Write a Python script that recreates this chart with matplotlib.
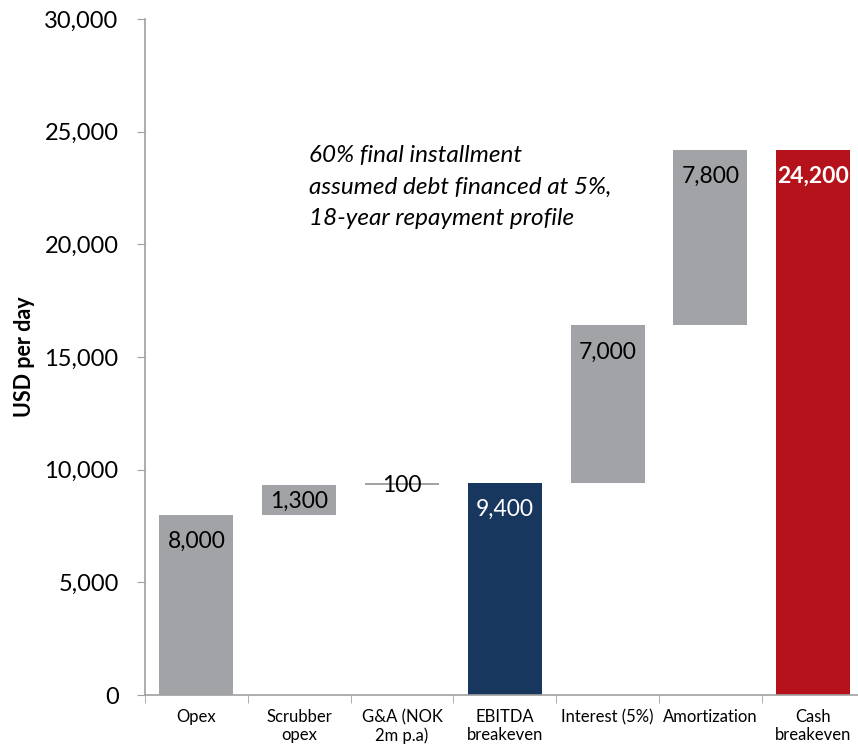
import matplotlib.pyplot as plt
from matplotlib.ticker import FuncFormatter

plt.rcParams['font.family'] = ['Lato', 'DejaVu Sans']

categories = ["Opex", "Scrubber\nopex", "G&A (NOK\n2m p.a)", "EBITDA\nbreakeven",
              "Interest (5%)", "Amortization", "Cash\nbreakeven"]
values = [8000, 1300, 100, 9400, 7000, 7800, 24200]
is_total = [False, False, False, True, False, False, True]
bar_colors = ["#A2A3A7", "#A2A3A7", "#A2A3A7", "#17375E", "#A2A3A7", "#A2A3A7", "#B5121B"]
label_colors = ["black", "black", "black", "white", "black", "black", "white"]
note = "60% final installment\nassumed debt financed at 5%,\n18-year repayment profile"

# waterfall bases
bottoms = []
running = 0
for v, tot in zip(values, is_total):
    if tot:
        bottoms.append(0)
        running = v
    else:
        bottoms.append(running)
        running += v

fig = plt.figure(figsize=(8.58, 7.52), dpi=100)
ax = fig.add_axes([145 / 858, 57 / 752, 7 * 102.8 / 858, 676 / 752])

x = list(range(len(categories)))
ax.bar(x, values, bottom=bottoms, width=0.72, color=bar_colors)

for i, (v, b) in enumerate(zip(values, bottoms)):
    top = b + v
    weight = "bold" if i == len(values) - 1 else "normal"
    txt = f"{v:,}"
    if v >= 3000:
        ax.annotate(txt, (i, top), xytext=(0, -16), textcoords="offset pixels",
                    ha="center", va="top", fontsize=16.5, color=label_colors[i], fontweight=weight)
    else:
        ax.annotate(txt, (i, b + v / 2), xytext=(0, -1), textcoords="offset pixels",
                    ha="center", va="center", fontsize=16.5, color=label_colors[i], fontweight=weight)

ax.text(1.1, 24400, note, ha="left", va="top", fontsize=17.5, style="italic",
        linespacing=1.62)

ax.set_xlim(-0.5, len(categories) - 0.5)
ax.set_ylim(0, 30000)
ax.set_yticks(range(0, 30001, 5000))
ax.yaxis.set_major_formatter(FuncFormatter(lambda y, _: f"{int(y):,}"))
ax.tick_params(axis="y", direction="out", length=6, color="#A0A0A0", labelsize=17, pad=13)

ax.set_xticks(x)
ax.set_xticklabels(categories, fontsize=12)
ax.set_xticks([i - 0.5 for i in range(len(categories) + 1)], minor=True)
ax.tick_params(axis="x", which="major", length=0, pad=10)
ax.tick_params(axis="x", which="minor", direction="out", length=6, color="#A0A0A0")

for s in ["top", "right"]:
    ax.spines[s].set_visible(False)
for s in ["left", "bottom"]:
    ax.spines[s].set_color("#A0A0A0")
    ax.spines[s].set_linewidth(1.2)

ax.set_ylabel("USD per day", fontsize=15.5, fontweight="bold", labelpad=7)

fig.savefig("out.png", dpi=100)
